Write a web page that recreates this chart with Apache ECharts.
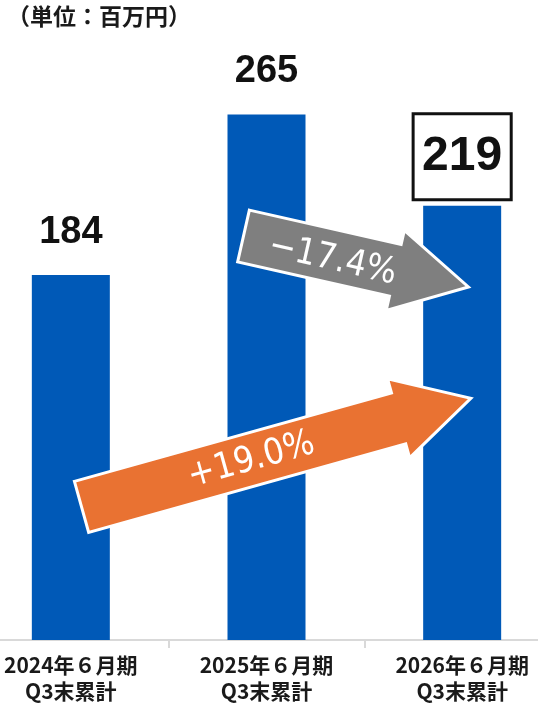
<!DOCTYPE html>
<html>
<head>
<meta charset="utf-8">
<script src="https://cdn.jsdelivr.net/npm/echarts@6/dist/echarts.min.js"></script>
<style>
  html, body { margin: 0; padding: 0; background: #fff; overflow: hidden; width: 538px; height: 704px; }
  /* the plot is wider than the page so the outer category bands run off both edges */
  #chart { position: absolute; left: -27px; top: 0; width: 587px; height: 704px; }
</style>
</head>
<body>
<div id="chart"></div>
<script>
// Cumulative results through Q3 (unit: million yen)
const categories = ['2024年６月期\nQ3末累計', '2025年６月期\nQ3末累計', '2026年６月期\nQ3末累計'];
const salesValues = [184, 265, 219];
const changeLabels = ['−17.4%', '+19.0%'];

const chart = echarts.init(document.getElementById('chart'), null, { renderer: 'canvas' });

const CJK = '"Noto Sans CJK JP", "Noto Sans", sans-serif';
const NUM = '"Liberation Sans", Arial, sans-serif';

const barData = salesValues.map((v, i) => {
  if (i === salesValues.length - 1) {
    // latest period gets a boxed value label
    return {
      value: v,
      label: {
        fontSize: 48,
        lineHeight: 48,
        borderColor: '#111',
        borderWidth: 3,
        padding: [19, 9, 19, 9],
        distance: 6
      }
    };
  }
  return v;
});

chart.setOption({
  animation: false,
  title: {
    text: '（単位：百万円）',
    left: 29,
    top: 0,
    textStyle: { fontFamily: CJK, fontSize: 23, fontWeight: 'bold', color: '#1a1a1a' }
  },
  grid: { left: 0, right: 0, top: 45, bottom: 61 },
  xAxis: {
    type: 'category',
    data: categories,
    axisLine: { lineStyle: { color: '#d9d9d9', width: 2 } },
    axisTick: { show: true, length: 8, lineStyle: { color: '#d9d9d9', width: 2 } },
    axisLabel: {
      margin: 12,
      fontFamily: CJK,
      fontSize: 21,
      lineHeight: 26,
      fontWeight: 'bold',
      color: '#1a1a1a'
    }
  },
  yAxis: { type: 'value', min: 0, max: 300, show: false, splitLine: { show: false } },
  series: [{
    type: 'bar',
    data: barData,
    barWidth: 78,
    itemStyle: { color: '#0059b7' },
    label: {
      show: true,
      position: 'top',
      distance: 24,
      formatter: '{c}',
      fontFamily: NUM,
      fontSize: 38,
      lineHeight: 38,
      fontWeight: 'bold',
      color: '#111'
    }
  }]
});

// Change arrows, anchored to category bands and value positions
const arrows = [
  { from: [1, -0.1175, 203.7], to: [2, 0.032, 178.0], color: '#7f7f7f', text: changeLabels[0], along: 92, perp: 4 },
  { from: [0, 0.0547, 67.1], to: [2, 0.0444, 121.9], color: '#e97232', text: changeLabels[1], along: 176, perp: 1 }
];

function toPixel(anchor) {
  const c0 = chart.convertToPixel({ seriesIndex: 0 }, [0, 0]);
  const c1 = chart.convertToPixel({ seriesIndex: 0 }, [1, 0]);
  const band = c1[0] - c0[0];
  const p = chart.convertToPixel({ seriesIndex: 0 }, [anchor[0], anchor[2]]);
  return [p[0] + anchor[1] * band, p[1]];
}

function arrowGraphic(a) {
  const t = toPixel(a.from);
  const h = toPixel(a.to);
  const dx = h[0] - t[0], dy = h[1] - t[1];
  const len = Math.sqrt(dx * dx + dy * dy);
  const u = [dx / len, dy / len];
  const n = [-u[1], u[0]];
  const sw = 26.5, hw = 41, hl = 75;
  const local = [[0, -sw], [len - hl, -sw], [len - hl, -hw], [len, 0], [len - hl, hw], [len - hl, sw], [0, sw]];
  const pts = local.map(([s, q]) => [t[0] + s * u[0] + q * n[0], t[1] + s * u[1] + q * n[1]]);
  const tx = t[0] + a.along * u[0] + a.perp * n[0];
  const ty = t[1] + a.along * u[1] + a.perp * n[1];
  return [
    {
      type: 'polygon',
      z: 100,
      shape: { points: pts },
      style: { fill: a.color, stroke: '#fff', lineWidth: 3, lineJoin: 'miter' }
    },
    {
      type: 'text',
      z: 101,
      x: tx,
      y: ty,
      rotation: -Math.atan2(dy, dx),
      style: {
        text: a.text,
        fill: '#fff',
        font: 'normal 36px "DejaVu Sans Condensed", "DejaVu Sans", sans-serif',
        align: 'center',
        verticalAlign: 'middle',
        textAlign: 'center',
        textVerticalAlign: 'middle'
      }
    }
  ];
}

chart.setOption({ graphic: arrows.flatMap(arrowGraphic) });
</script>
</body>
</html>
